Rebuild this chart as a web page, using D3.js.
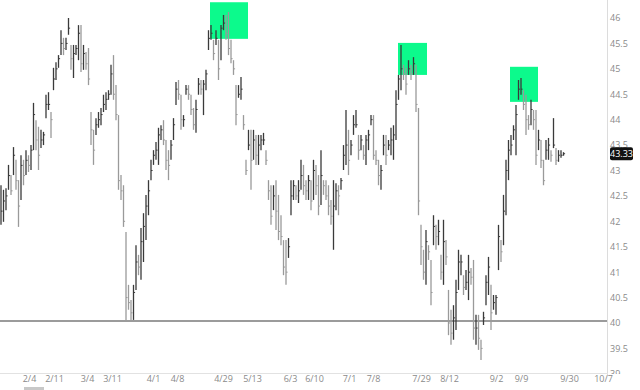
<!DOCTYPE html>
<html>
<head>
<meta charset="utf-8">
<script src="https://cdn.jsdelivr.net/npm/d3@7"></script>
<style>
  html, body { margin: 0; padding: 0; background: #fff; }
  svg { display: block; }
  text { font-family: "Open Sans", "DejaVu Sans", sans-serif; }
</style>
</head>
<body>
<svg id="chart"></svg>
<script>
// bar data, one entry per session
const high = [
  42.71, 42.62, 42.65, 43.11, 42.91, 43.46, 43.21, 42.81, 43.30, 43.21,
  43.40, 43.30, 43.50, 44.33, 43.99, 43.86, 43.80, 43.76, 44.49, 44.54,
  44.15, 45.02, 45.13, 45.27, 45.76, 45.61, 45.61, 46.00, 45.47, 45.47,
  45.47, 45.86, 45.86, 45.47, 45.33, 45.41, 44.15, 43.80, 44.03, 44.15,
  44.23, 44.49, 44.54, 44.58, 45.08, 45.27, 44.68, 44.09, 42.91, 42.71,
  41.79, 40.75, 40.45, 40.75, 41.53, 41.34, 41.87, 42.16, 42.52, 42.81,
  43.21, 43.40, 43.56, 43.84, 43.89, 43.99, 43.60, 43.40, 43.60, 44.03,
  44.74, 44.78, 44.49, 44.09, 44.68, 44.68, 44.49, 44.23, 44.39, 44.82,
  44.78, 44.78, 44.98, 45.76, 45.86, 45.57, 45.76, 45.57, 45.86, 46.06,
  46.06, 46.12, 45.57, 45.17, 44.68, 44.68, 44.84, 44.09, 43.21, 43.80,
  43.80, 43.80, 43.70, 43.70, 43.70, 43.74, 43.40, 42.81, 42.71, 42.71,
  42.81, 42.52, 42.12, 41.63, 41.63, 41.67, 42.81, 42.81, 42.71, 42.81,
  43.21, 43.11, 42.81, 42.91, 42.81, 43.21, 43.11, 42.91, 43.40, 42.81,
  42.81, 42.71, 42.42, 42.81, 42.75, 42.71, 42.85, 43.50, 44.19, 43.80,
  43.60, 44.09, 44.19, 43.70, 43.70, 43.50, 43.70, 43.80, 44.09, 44.09,
  43.40, 43.21, 43.11, 43.70, 43.70, 43.60, 43.84, 43.89, 44.58, 44.88,
  45.47, 45.08, 45.02, 45.17, 45.08, 45.23, 45.08, 44.23, 41.93, 41.44,
  41.83, 41.53, 41.24, 42.12, 41.93, 42.03, 41.34, 42.03, 41.63, 40.65,
  40.26, 40.35, 40.85, 41.44, 41.34, 40.94, 41.04, 41.34, 41.08, 41.24,
  40.16, 40.16, 39.67, 40.22, 40.94, 41.30, 40.75, 40.55, 40.55, 41.93,
  41.63, 42.52, 43.21, 43.60, 43.70, 43.89, 44.29, 44.78, 44.82, 44.58,
  44.49, 44.09, 44.39, 44.19, 44.19, 43.80, 43.60, 43.21, 43.60, 43.64,
  43.40, 44.03, 43.44, 43.40, 43.40, 43.36
];
const low = [
  41.93, 41.99, 42.22, 42.62, 42.52, 42.91, 42.62, 41.89, 42.42, 42.71,
  42.91, 42.97, 43.01, 43.40, 43.40, 43.01, 43.44, 43.50, 44.03, 44.19,
  43.64, 44.58, 44.78, 45.02, 45.27, 45.27, 45.37, 45.67, 44.98, 44.82,
  45.27, 45.17, 44.94, 44.98, 44.98, 44.68, 43.50, 43.11, 43.70, 43.84,
  43.89, 44.15, 44.19, 44.39, 44.49, 44.39, 43.99, 42.62, 42.42, 41.89,
  40.06, 40.26, 40.06, 40.06, 40.65, 40.94, 40.85, 41.20, 41.63, 42.12,
  42.81, 43.11, 43.21, 43.11, 43.60, 43.50, 43.01, 42.81, 43.21, 43.60,
  44.29, 44.39, 43.80, 43.86, 44.49, 44.39, 44.09, 43.80, 43.74, 44.49,
  44.49, 44.09, 44.58, 45.37, 45.57, 45.17, 45.47, 44.78, 45.17, 45.76,
  45.57, 45.27, 45.11, 44.88, 43.89, 44.43, 44.39, 43.80, 42.91, 43.40,
  42.62, 43.21, 43.11, 43.11, 43.40, 43.50, 43.11, 42.42, 41.93, 42.22,
  41.83, 41.63, 41.53, 40.94, 40.75, 41.28, 42.12, 42.42, 42.42, 42.36,
  42.62, 42.52, 42.42, 42.42, 42.22, 42.42, 42.52, 42.12, 42.32, 42.52,
  42.42, 42.12, 41.93, 41.44, 42.22, 42.12, 42.62, 43.01, 43.11, 42.91,
  43.30, 43.70, 43.84, 43.21, 43.40, 43.21, 43.11, 43.40, 43.89, 43.21,
  43.11, 42.71, 42.62, 43.30, 43.11, 43.40, 43.30, 43.21, 43.60, 44.39,
  44.58, 44.78, 44.49, 44.88, 44.78, 44.88, 44.15, 42.12, 41.14, 40.85,
  40.75, 41.24, 40.35, 41.53, 41.44, 41.53, 40.85, 40.75, 41.14, 39.76,
  39.57, 39.67, 39.86, 40.65, 40.94, 40.55, 40.65, 40.45, 40.75, 39.67,
  39.57, 39.47, 39.27, 39.96, 40.35, 40.55, 39.86, 40.26, 40.16, 41.04,
  41.20, 41.53, 42.12, 42.81, 43.30, 43.60, 43.30, 44.39, 44.49, 44.19,
  43.70, 43.80, 43.89, 43.80, 43.11, 43.40, 43.05, 42.71, 43.21, 43.21,
  43.17, 43.44, 43.11, 43.17, 43.25, 43.29
];
const close = [
  42.2, 42.4, 42.5, 42.9, 42.6, 43.3, 42.8, 42.3, 43.1, 42.9,
  43.2, 43.1, 43.4, 44.1, 43.6, 43.3, 43.6, 43.7, 44.3, 44.3,
  44.0, 44.8, 45.0, 45.2, 45.5, 45.4, 45.5, 45.8, 45.2, 45.3,
  45.4, 45.7, 45.1, 45.3, 45.1, 44.8, 43.8, 43.4, 43.9, 44.0,
  44.1, 44.3, 44.4, 44.5, 44.9, 44.5, 44.1, 42.8, 42.6, 42.0,
  40.5, 40.4, 40.2, 40.6, 41.2, 41.1, 41.6, 41.9, 42.3, 42.6,
  43.0, 43.3, 43.4, 43.7, 43.8, 43.6, 43.2, 43.1, 43.5, 43.9,
  44.6, 44.5, 44.0, 44.0, 44.6, 44.5, 44.2, 43.9, 44.2, 44.7,
  44.6, 44.7, 44.9, 45.6, 45.7, 45.3, 45.6, 45.0, 45.8, 45.9,
  45.7, 45.4, 45.2, 45.0, 44.1, 44.5, 44.6, 43.9, 43.0, 43.5,
  43.2, 43.6, 43.3, 43.5, 43.6, 43.6, 43.2, 42.6, 42.1, 42.5,
  42.2, 41.8, 41.7, 41.1, 41.0, 41.5, 42.5, 42.7, 42.5, 42.6,
  42.9, 42.7, 42.6, 42.8, 42.4, 43.0, 42.7, 42.3, 42.9, 42.7,
  42.5, 42.3, 42.1, 42.3, 42.6, 42.5, 42.8, 43.3, 43.5, 43.2,
  43.5, 43.9, 43.9, 43.4, 43.6, 43.3, 43.6, 43.7, 44.0, 43.3,
  43.2, 42.9, 43.0, 43.5, 43.3, 43.5, 43.6, 43.7, 44.3, 44.8,
  45.0, 44.9, 44.7, 45.0, 44.9, 45.1, 44.3, 42.4, 41.5, 41.0,
  41.6, 41.4, 40.6, 41.9, 41.7, 41.8, 41.0, 41.6, 41.3, 40.0,
  39.8, 40.1, 40.6, 41.2, 41.2, 40.7, 40.8, 41.0, 40.9, 39.9,
  39.9, 39.7, 39.5, 40.1, 40.8, 41.1, 40.2, 40.4, 40.5, 41.7,
  41.4, 42.2, 43.0, 43.4, 43.5, 43.8, 44.1, 44.6, 44.6, 44.3,
  44.0, 43.9, 44.2, 44.0, 43.3, 43.6, 43.2, 42.8, 43.4, 43.5,
  43.3, 43.5, 43.2, 43.3, 43.3, 43.33
];

// date labels and the session they fall on
const tickLabels = ["2/4", "2/11", "3/4", "3/11", "4/1", "4/8", "4/29", "5/13", "6/3",
  "6/10", "7/1", "7/8", "7/29", "8/12", "9/2", "9/9", "9/30", "10/7"];
const tickSessions = [11.2, 21.2, 34.4, 44.4, 60.8, 70.4, 88.8, 100.4, 115.6,
  125.2, 139.2, 148.8, 168, 179.2, 198, 208, 227.2, 240.8];
const priceTicks = [39, 39.5, 40, 40.5, 41, 41.5, 42, 42.5, 43, 43.5, 44, 44.5, 45, 45.5, 46];

// highlighted tops: [first session, last session, top price, bottom price]
const highlights = [
  [83.6, 98.8, 46.31, 45.59],
  [158.8, 170.4, 45.51, 44.88],
  [203.6, 214.8, 45.04, 44.35]
];
const supportLevel = 40.04;
const lastPrice = 43.33;

const width = 640;
const height = 390;
const plotRight = 608;
const plotBottom = 373;

const svg = d3.select('#chart').attr('width', width).attr('height', height);

const x = d3.scaleLinear().domain([-0.4, 242.8]).range([0, plotRight]);
const y = d3.scaleLinear().domain([39, 46]).range([373.8, 18]);

const defs = svg.append('defs');
defs.append('clipPath').attr('id', 'plot')
  .append('rect').attr('x', 0).attr('y', 0).attr('width', plotRight).attr('height', plotBottom);
// local coords of the axis group (it is translated to plotRight)
defs.append('clipPath').attr('id', 'axisclip')
  .append('rect').attr('x', 0).attr('y', 0).attr('width', 40).attr('height', plotBottom + 1);

const plot = svg.append('g').attr('clip-path', 'url(#plot)');

// green boxes behind the bars
plot.append('g')
  .selectAll('rect')
  .data(highlights)
  .join('rect')
  .attr('x', d => x(d[0]))
  .attr('y', d => y(d[2]))
  .attr('width', d => x(d[1]) - x(d[0]))
  .attr('height', d => y(d[3]) - y(d[2]))
  .attr('fill', '#0cfa8c');

// support line
plot.append('line')
  .attr('x1', 0).attr('x2', plotRight)
  .attr('y1', y(supportLevel)).attr('y2', y(supportLevel))
  .attr('stroke', '#7a7a7a').attr('stroke-width', 1.5);

const bars = high.map((h, i) => ({
  i, h, l: low[i], c: close[i],
  up: i === 0 ? true : close[i] >= close[i - 1]
}));

const barG = plot.append('g');
barG.selectAll('line.hl')
  .data(bars)
  .join('line')
  .attr('class', 'hl')
  .attr('x1', d => x(d.i)).attr('x2', d => x(d.i))
  .attr('y1', d => y(d.h)).attr('y2', d => y(d.l))
  .attr('stroke', d => d.up ? '#3a3a3a' : '#9a9a9a')
  .attr('stroke-width', 1.3);

barG.selectAll('line.cl')
  .data(bars)
  .join('line')
  .attr('class', 'cl')
  .attr('x1', d => x(d.i)).attr('x2', d => x(d.i) + 1.6)
  .attr('y1', d => y(d.c)).attr('y2', d => y(d.c))
  .attr('stroke', d => d.up ? '#3a3a3a' : '#9a9a9a')
  .attr('stroke-width', 1);

// frame lines
svg.append('line')
  .attr('x1', plotRight - 0.5).attr('x2', plotRight - 0.5)
  .attr('y1', 0).attr('y2', plotBottom + 2)
  .attr('stroke', '#dcdcdc').attr('stroke-width', 1);
svg.append('line')
  .attr('x1', 0).attr('x2', plotRight)
  .attr('y1', plotBottom + 0.5).attr('y2', plotBottom + 0.5)
  .attr('stroke', '#e2e2e2').attr('stroke-width', 1);

// right price axis
const yAxis = svg.append('g')
  .attr('transform', `translate(${plotRight},0)`)
  .attr('clip-path', 'url(#axisclip)')
  .call(d3.axisRight(y).tickValues(priceTicks).tickSize(0).tickPadding(2)
    .tickFormat(d => d3.format('')(d)));
yAxis.select('.domain').remove();
yAxis.selectAll('text').attr('fill', '#8a8a8a').style('font-size', '9px');

// bottom date axis
const xAxis = svg.append('g')
  .attr('transform', `translate(0,${plotBottom})`)
  .call(d3.axisBottom(x).tickValues(tickSessions).tickSize(0).tickPadding(3)
    .tickFormat((d, i) => tickLabels[i]));
xAxis.select('.domain').remove();
xAxis.selectAll('text').attr('fill', '#8a8a8a').style('font-size', '9px');

// last price tag
const tag = svg.append('g').attr('transform', `translate(${plotRight + 2},${y(lastPrice)})`);
tag.append('rect')
  .attr('x', 0).attr('y', -6.5).attr('width', 23).attr('height', 13)
  .attr('rx', 2).attr('fill', '#111');
tag.append('text')
  .attr('x', 11.5).attr('y', 3.2)
  .attr('text-anchor', 'middle')
  .attr('fill', '#fff')
  .style('font-size', '9px')
  .text(d3.format('.2f')(lastPrice));

// scrollbar thumb under the date axis
svg.append('rect')
  .attr('x', 24).attr('y', 387).attr('width', 20).attr('height', 3)
  .attr('fill', '#c8c8c8');
</script>
</body>
</html>
